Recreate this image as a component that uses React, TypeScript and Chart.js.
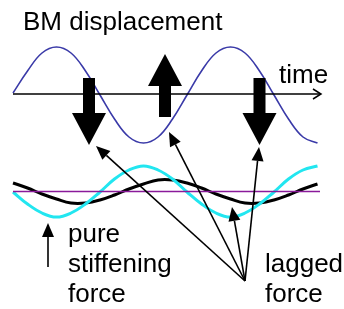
import React, { useEffect, useRef } from "react";
import { Chart, registerables } from "chart.js";

Chart.register(...registerables);

// sample positions along the time axis (picture units)
const sampleX = [13, 27.5, 42, 56.5, 71, 85.5, 100, 114.5, 129, 143.5, 158, 172.5, 187, 201.5, 216, 230.5, 245, 259.5, 274, 288.5, 303, 317.5];
// BM displacement (blue)
const displacementY = [93, 71, 53, 47, 53, 71, 95, 119, 137, 143, 137, 119, 95, 71, 53, 47, 53, 71, 95, 119, 137, 143];
// pure stiffening force (cyan)
const stiffeningY = [192, 204, 213, 217, 213, 204, 192, 179, 170, 166, 170, 179, 192, 204, 213, 217, 213, 204, 192, 179, 170, 166];
// lagged force (black)
const laggedY = [183, 188, 194, 199, 203, 203, 200, 195, 189, 184, 180, 180, 183, 188, 194, 199, 203, 203, 200, 195, 189, 184];

// time axis and force zero line
const timeAxisX = [13, 321];
const timeAxisY = [94, 94];
const zeroLineX = [13, 320];
const zeroLineY = [191.5, 191.5];

// block force arrows: x, tail, tip
const forceArrowX = [89, 165, 259.5];
const forceArrowTail = [78, 117, 78];
const forceArrowTip = [145, 54, 145];

// pointer arrows from the "lagged force" label
const pointerOriginX = 245;
const pointerOriginY = 281;
const pointerTipX = [96, 169, 259, 232];
const pointerTipY = [146, 132, 147, 207];

// pure stiffening pointer
const stiffPointerX = 48;
const stiffPointerFrom = 267;
const stiffPointerTo = 223;

// labels
const labelText = ["BM displacement", "time", "pure", "stiffening", "force", "lagged", "force"];
const labelX = [23, 279, 68, 68, 68, 265, 265];
const labelY = [30, 83, 242, 272, 302, 272, 302];

const toPts = (xs: number[], ys: number[]) => xs.map((x, i) => ({ x, y: ys[i] }));

const drawPlugin = {
  id: "diagram",
  afterDatasetsDraw(chart: any) {
    const { ctx, scales } = chart;
    const sx = scales.x;
    const sy = scales.y;
    const X = (v: number) => sx.getPixelForValue(v);
    const Y = (v: number) => sy.getPixelForValue(v);
    ctx.save();

    // axis chevron
    ctx.strokeStyle = "#000";
    ctx.lineWidth = 1.5;
    ctx.beginPath();
    ctx.moveTo(X(timeAxisX[1] - 8), Y(timeAxisY[1] - 5));
    ctx.lineTo(X(timeAxisX[1]), Y(timeAxisY[1]));
    ctx.lineTo(X(timeAxisX[1] - 8), Y(timeAxisY[1] + 5));
    ctx.stroke();

    // block arrows
    ctx.fillStyle = "#000";
    forceArrowX.forEach((ax, i) => {
      const tail = Y(forceArrowTail[i]);
      const tip = Y(forceArrowTip[i]);
      const dir = tip > tail ? 1 : -1;
      const headLen = 32;
      const base = tip - dir * headLen;
      const cx = X(ax);
      ctx.beginPath();
      ctx.moveTo(cx - 6, tail);
      ctx.lineTo(cx + 6, tail);
      ctx.lineTo(cx + 6, base);
      ctx.lineTo(cx + 17, base);
      ctx.lineTo(cx, tip);
      ctx.lineTo(cx - 17, base);
      ctx.lineTo(cx - 6, base);
      ctx.closePath();
      ctx.fill();
    });

    const thinArrow = (x0: number, y0: number, x1: number, y1: number) => {
      const dx = x1 - x0;
      const dy = y1 - y0;
      const len = Math.hypot(dx, dy);
      const ux = dx / len;
      const uy = dy / len;
      const hl = 14;
      const hw = 6;
      const bx = x1 - ux * hl;
      const by = y1 - uy * hl;
      ctx.lineWidth = 1.6;
      ctx.beginPath();
      ctx.moveTo(x0, y0);
      ctx.lineTo(bx, by);
      ctx.stroke();
      ctx.beginPath();
      ctx.moveTo(x1, y1);
      ctx.lineTo(bx - uy * hw, by + ux * hw);
      ctx.lineTo(bx + uy * hw, by - ux * hw);
      ctx.closePath();
      ctx.fill();
    };

    pointerTipX.forEach((tx, i) => {
      thinArrow(X(pointerOriginX), Y(pointerOriginY), X(tx), Y(pointerTipY[i]));
    });
    thinArrow(X(stiffPointerX), Y(stiffPointerFrom), X(stiffPointerX), Y(stiffPointerTo));

    // labels
    ctx.font = "26px 'Liberation Sans', Arial, sans-serif";
    ctx.textBaseline = "alphabetic";
    ctx.textAlign = "left";
    labelText.forEach((t, i) => {
      ctx.fillText(t, X(labelX[i]), Y(labelY[i]));
    });

    ctx.restore();
  },
};

export default function App() {
  const ref = useRef<HTMLCanvasElement | null>(null);
  useEffect(() => {
    if (!ref.current) return;
    const line = (data: any, color: string, width: number) => ({
      data,
      borderColor: color,
      borderWidth: width,
      showLine: true,
      pointRadius: 0,
      tension: 0.4,
      fill: false,
    });
    const chart = new Chart(ref.current, {
      type: "scatter",
      data: {
        datasets: [
          line(toPts(timeAxisX, timeAxisY), "#000000", 1.5),
          line(toPts(sampleX, displacementY), "#3a3aa8", 1.6),
          line(toPts(zeroLineX, zeroLineY), "#8a1a9a", 1.6),
          line(toPts(sampleX, stiffeningY), "#22e6f0", 3),
          line(toPts(sampleX, laggedY), "#000000", 3),
        ],
      },
      options: {
        animation: false,
        responsive: true,
        maintainAspectRatio: false,
        layout: { padding: 0 },
        plugins: { legend: { display: false }, tooltip: { enabled: false } },
        scales: {
          x: { type: "linear", min: 0, max: 344, display: false },
          y: { type: "linear", min: 0, max: 309, reverse: true, display: false },
        },
      },
      plugins: [drawPlugin],
    });
    return () => chart.destroy();
  }, []);
  return (
    <div style={{ position: "absolute", left: 0, top: 0, width: 344, height: 309, background: "#fff" }}>
      <canvas ref={ref} />
    </div>
  );
}
